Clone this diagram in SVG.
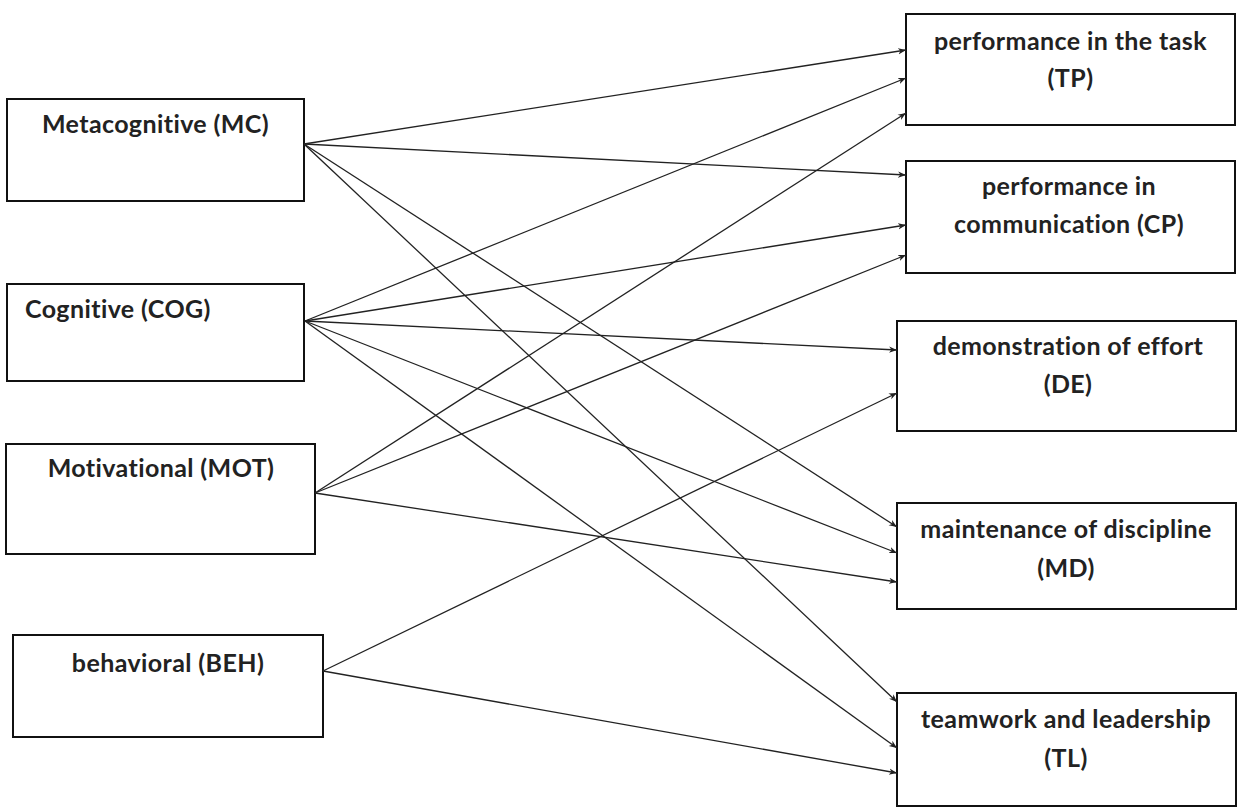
<svg xmlns="http://www.w3.org/2000/svg" width="1240" height="809" viewBox="0 0 1240 809">
<style>
.box{fill:#fff;stroke:#111;stroke-width:2}
.t{font-family:Lato,"Liberation Sans",sans-serif;font-weight:bold;font-size:25px;letter-spacing:0.4px;fill:#222;text-anchor:middle}
.c{stroke:#222;stroke-width:1.3;fill:none;marker-end:url(#ah)}
</style>
<defs>
<marker id="ah" viewBox="0 0 10 10" refX="10" refY="5" markerWidth="8" markerHeight="8" markerUnits="userSpaceOnUse" orient="auto">
<path d="M0,1 L10,5 L0,9 L3,5 Z" fill="#222"/>
</marker>
</defs>
<rect width="1240" height="809" fill="#fff"/>
<g id="MC"><rect class="box" x="7" y="99" width="297" height="102"/><text class="t" x="155.5" y="133">Metacognitive (MC)</text></g>
<g id="COG"><rect class="box" x="7" y="284" width="297" height="97"/><text class="t" x="25" y="318" style="text-anchor:start">Cognitive (COG)</text></g>
<g id="MOT"><rect class="box" x="6" y="444" width="309" height="110"/><text class="t" x="161" y="477">Motivational (MOT)</text></g>
<g id="BEH"><rect class="box" x="13" y="635" width="310" height="102"/><text class="t" x="168" y="672">behavioral (BEH)</text></g>
<g id="TP"><rect class="box" x="906" y="14" width="329" height="111"/><text class="t" x="1070.5" y="50">performance in the task</text><text class="t" x="1070.5" y="87">(TP)</text></g>
<g id="CP"><rect class="box" x="906" y="161" width="329" height="112"/><text class="t" x="1069" y="195">performance in</text><text class="t" x="1069" y="233">communication (CP)</text></g>
<g id="DE"><rect class="box" x="897" y="321" width="339" height="110"/><text class="t" x="1068" y="355">demonstration of effort</text><text class="t" x="1068" y="393">(DE)</text></g>
<g id="MD"><rect class="box" x="897" y="503" width="339" height="106"/><text class="t" x="1066" y="538">maintenance of discipline</text><text class="t" x="1066" y="577">(MD)</text></g>
<g id="TL"><rect class="box" x="897" y="693" width="339" height="113"/><text class="t" x="1066" y="728">teamwork and leadership</text><text class="t" x="1066" y="767">(TL)</text></g>
<g id="connectors">
<line class="c" x1="304" y1="144" x2="906" y2="50"/>
<line class="c" x1="304" y1="144" x2="906" y2="175"/>
<line class="c" x1="304" y1="144" x2="897" y2="527"/>
<line class="c" x1="304" y1="144" x2="897" y2="702"/>
<line class="c" x1="305" y1="321" x2="906" y2="78"/>
<line class="c" x1="305" y1="321" x2="906" y2="225"/>
<line class="c" x1="305" y1="321" x2="897" y2="350"/>
<line class="c" x1="305" y1="321" x2="897" y2="553"/>
<line class="c" x1="305" y1="321" x2="897" y2="748"/>
<line class="c" x1="315" y1="493" x2="906" y2="113"/>
<line class="c" x1="315" y1="493" x2="906" y2="255"/>
<line class="c" x1="315" y1="493" x2="897" y2="582"/>
<line class="c" x1="323" y1="671" x2="897" y2="393"/>
<line class="c" x1="323" y1="671" x2="897" y2="773"/>
</g>
</svg>
